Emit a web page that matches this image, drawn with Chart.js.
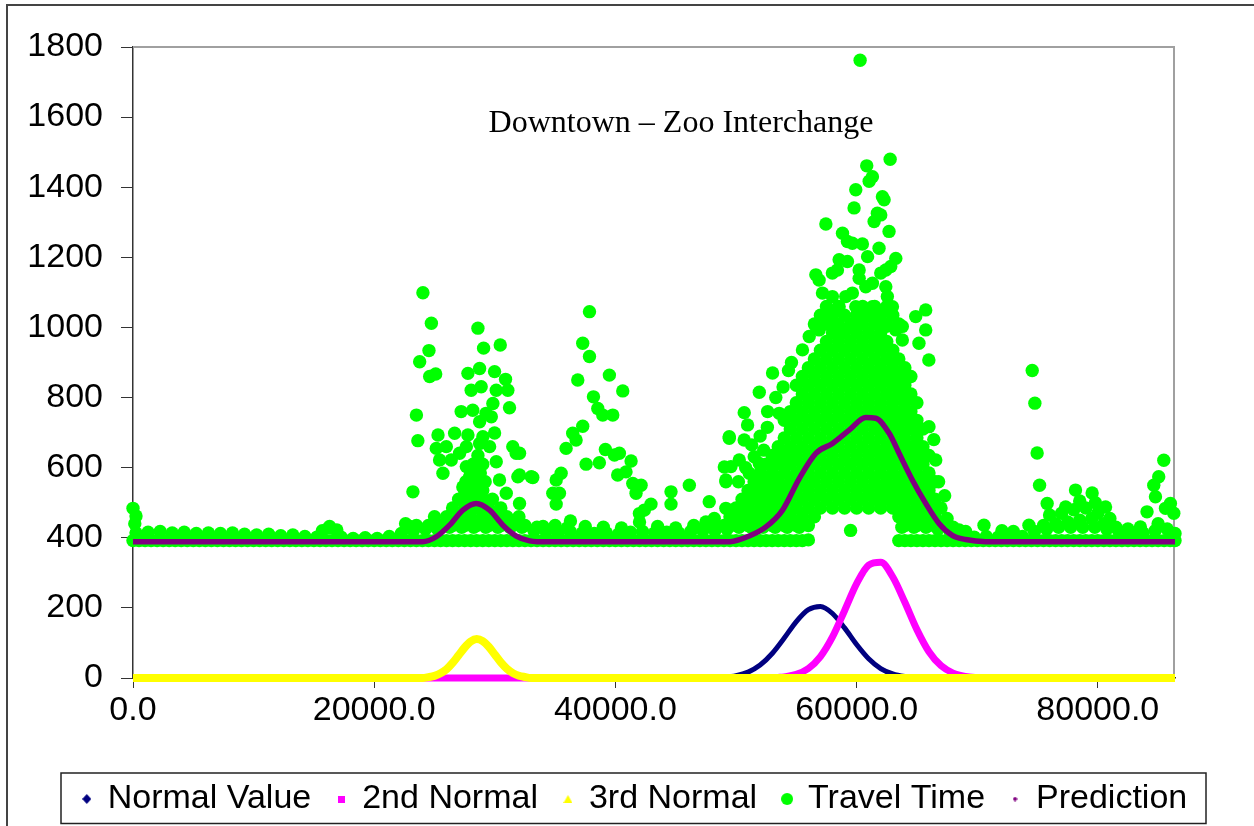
<!DOCTYPE html>
<html><head><meta charset="utf-8">
<script src="https://cdn.jsdelivr.net/npm/chart.js@4.4.1/dist/chart.umd.min.js"></script>
<style>html,body{margin:0;padding:0;background:#fff;overflow:hidden}canvas{display:block}</style>
</head><body>
<canvas id="c" width="1254" height="826"></canvas>
<script>
const chartTitle = 'Downtown – Zoo Interchange';
const seriesNames = ['Normal Value', '2nd Normal', '3rd Normal', 'Travel Time', 'Prediction'];
const seriesColors = ['#000080', '#ff00ff', '#ffff00', '#00ff00', '#800080'];
const xTickValues = [0, 20000, 40000, 60000, 80000];
const xTickLabels = ['0.0', '20000.0', '40000.0', '60000.0', '80000.0'];
const yTickValues = [0, 200, 400, 600, 800, 1000, 1200, 1400, 1600, 1800];
const yTickLabels = ['0', '200', '400', '600', '800', '1000', '1200', '1400', '1600', '1800'];

const normalValue = [[0,0],[48000,0],[49000,2],[50000,6.5],[51000,16.7],[52000,36.8],[53000,69.9],[54000,114],[55000,161],[56000,195],[57000,204],[58000,184],[59000,143],[60000,95.6],[61000,55],[62000,27],[63000,11.7],[64000,4.3],[65000,1],[66000,0],[86400,0]];
const secondNormal = [[0,0],[52500,0],[53500,1.8],[54000,3.3],[55000,10.2],[56000,27],[57000,61],[58000,117],[59000,192],[60000,269],[61000,322],[62000,330],[63000,288],[64000,216],[65000,138],[66000,75],[67000,35],[68000,14],[69000,4.7],[70000,1.4],[71000,0],[86400,0]];
const thirdNormal = [[0,0],[24000,0],[24500,2.5],[25000,6.2],[25500,13.3],[26000,25],[26500,43],[27000,65],[27500,87],[28000,104],[28500,111],[29000,105],[29500,89],[30000,67],[30500,44.5],[31000,26.5],[31500,14],[32000,6.6],[32500,2.8],[33000,0],[86400,0]];
const prediction = [[0,389],[24000,389],[25150,403],[26250,436],[27350,479],[28460,498],[29570,479],[30670,436],[31780,405],[32880,391],[33500,389],[49500,389],[51100,405],[52480,431],[53860,479],[55240,569],[56620,641],[58000,669],[59380,707],[60760,743],[61590,741],[62700,698],[63520,641],[64620,565],[65730,498],[66830,441],[67930,407],[69040,395],[70700,389],[86400,389]];

const travelBand = [
[0,392],[500,392],[1000,392],[1500,392],[2000,392],[2500,392],[3000,392],[3500,392],[4000,392],[4500,392],
[5000,392],[5500,392],[6000,392],[6500,392],[7000,392],[7500,392],[8000,392],[8500,392],[9000,392],[9500,392],
[10000,392],[10500,392],[11000,392],[11500,392],[12000,392],[12500,392],[13000,392],[13500,392],[14000,392],[14500,392],
[15000,392],[15500,392],[16000,392],[16500,392],[17000,392],[17500,392],[18000,392],[18500,392],[19000,392],[19500,392],
[20000,392],[20500,392],[21000,392],[21500,392],[22000,392],[22500,392],[23000,392],[23500,392],[24000,392],[24500,392],
[25000,392],[25500,392],[26000,392],[26500,392],[27000,392],[27500,392],[28000,392],[28500,392],[29000,392],[29500,392],
[30000,392],[30500,392],[31000,392],[31500,392],[32000,392],[32500,392],[33000,392],[33500,392],[34000,392],[34500,392],
[35000,392],[35500,392],[36000,392],[36500,392],[37000,392],[37500,392],[38000,392],[38500,392],[39000,392],[39500,392],
[40000,392],[40500,392],[41000,392],[41500,392],[42000,392],[42500,392],[43000,392],[43500,392],[44000,392],[44500,392],
[45000,392],[45500,392],[46000,392],[46500,392],[47000,392],[47500,392],[48000,392],[48500,392],[49000,392],[49500,392],
[50000,392],[50500,392],[51000,392],[51500,392],[52000,392],[52500,392],[53000,392],[53500,392],[54000,392],[54500,392],
[55000,392],[55500,392],[56000,394],[59500,421],
[63500,392],[64000,392],[64500,392],[65000,392],[65500,392],[66000,392],[66500,392],[67000,392],[67500,392],[68000,392],
[68500,392],[69000,392],[69500,392],[70000,392],[70500,392],[71000,392],[71500,392],[72000,392],[72500,392],[73000,392],
[73500,392],[74000,392],[74500,392],[75000,392],[75500,392],[76000,392],[76500,392],[77000,392],[77500,392],[78000,392],
[78500,392],[79000,392],[79500,392],[80000,392],[80500,392],[81000,392],[81500,392],[82000,392],[82500,392],[83000,392],
[83500,392],[84000,392],[84500,392],[85000,392],[85500,392],[86000,392],[86400,392],
[250,414],[1250,416],[2250,418],[3250,414],[4250,416],[5250,412],[6250,414],[7250,412],[8250,414],[9250,410],
[10250,408],[11250,410],[12250,406],[13250,408],[14250,404],[15250,402],[16250,428],[17250,402],[18250,398],[19250,400],
[20250,398],[21250,404],[22250,412],[23250,420],[24250,425],[25250,425],[26250,430],[27250,430],[28250,430],[29250,430],
[30250,430],[31250,430],[32250,430],[33250,420],[34250,418],[35250,416],[36250,418],[37250,414],[38250,412],[39250,414],
[40250,410],[41250,416],[42250,418],[43250,414],[44250,416],[45250,414],[46250,418],[47250,420],[48250,420],[49250,425],
[50250,430],[51250,430],[52250,430],[53250,430],[54250,430],[55250,430],
[63750,430],[64750,430],[65750,430],[66750,425],[67750,418],[68750,404],[69750,402],[70750,404],[71750,402],[72750,402],
[73750,404],[74750,418],[75750,425],[76750,430],[77750,430],[78750,430],[79750,430],[80750,425],[81750,418],[82750,410],
[83750,414],[84750,420],[85750,425],[86400,412],
[0,484],[250,462],[150,440],[15700,420],[16900,422],[16300,432],[22970,432],[22600,440]
];

const travelAmPeak = [
[24040,1099],[24740,1012],[28600,998],[24540,934],[23770,902],[29070,941],[30450,950],[24600,860],[25100,867],[27770,869],
[28740,883],[29980,874],[30890,852],[31080,821],[28040,821],[28870,831],[30120,821],[27210,760],[28170,764],[29270,755],
[29840,783],[29710,745],[28740,731],[31220,771],[23500,750],[23620,677],[25290,693],[26670,698],[27770,693],[29010,688],
[29980,699],[25150,655],[25980,660],[27080,641],[27640,660],[28740,669],[29570,660],[25420,622],[26390,622],[27640,603],
[28740,612],[30120,617],[31490,660],[31770,641],[25700,584],[27910,574],[30390,565],[31910,574],[33020,574],[23210,531],
[27350,545],[28460,555],[27640,517],[28740,507],[30950,527],[32050,498],[34810,527],[35090,565],
[23500,435],[24500,435],[25500,435],[26500,435],[27500,435],[28500,435],[29500,435],[30500,435],[31500,435],[32500,435],[34000,432],[35000,435],
[25000,460],[26000,460],[27000,460],[28000,460],[29000,460],[30000,460],[31000,460],[32000,460],
[26500,485],[27500,485],[28000,485],[28500,485],[29500,485],[30500,485],
[27000,510],[28000,510],[29000,510],[29800,510],
[27500,535],[28300,535],[29000,535],
[27600,560],[28400,560],[29200,560],
[28000,585],[28800,585],
[28200,610],[29000,610],[28600,635]
];

const travelMidday = [
[37850,1045],[37290,955],[37850,917],[36880,850],[39500,864],[40610,819],[38180,802],[38540,769],[38950,750],[39780,750],
[37290,718],[36460,698],[36740,679],[35910,655],[39170,652],[39920,636],[40330,641],[38670,614],[37570,610],[41300,619],
[40190,579],[40880,588],[41440,555],[42130,550],[41710,527],[35500,584],[35360,527],[35090,496],[32050,641],[32050,579],
[33150,572],[36270,448],[44610,531],[44610,496],[46130,550],[42950,496],[42400,479],[41990,469],
[33500,430],[36000,428],[37500,432],[39000,430],[40500,428],[42000,445],[43500,432],[45000,428],[46500,435],[47500,445],
[47780,503],[49160,484],[49160,565],[49580,603],[49030,602],[49440,688],[48200,455]
];

const travelPmPeak = [
[60290,1762],[62780,1480],[60840,1461],[61040,1417],[59930,1393],[61310,1430],[62140,1373],[62280,1364],[59790,1341],[61720,1326],
[62000,1321],[61450,1302],[62690,1274],[57450,1295],[58830,1269],[59240,1245],[59650,1240],[60480,1238],[61860,1226],[60910,1202],
[63250,1197],[62830,1174],[58550,1193],[59240,1188],[58410,1164],[60210,1164],[62000,1155],[62420,1164],[56620,1150],[56890,1135],
[57990,1155],[57170,1098],[60210,1140],[60760,1116],[61310,1126],[59650,1098],[62420,1116],[62550,1088],[62970,1059],[57990,1088],
[58550,1059],[59100,1088],[57720,1040],[56620,1003],[59930,1059],[60760,1031],[61310,1059],[61860,1031],[63790,1003],[65730,1050],
[64900,1031],[65730,993],[56890,993],[57990,1012],[58830,993],[59650,1003],[62420,1003],[63250,993],
[53030,870],[54350,877],[52620,760],[53580,755],[50960,722],[49440,684],[50680,679],[50270,622],[51510,631],[49160,560],
[51100,584],[51930,612],[55510,936],[56070,974],[65990,907],[66000,717],[66560,622],[51930,815],[50680,757],[63790,964],[65170,955],
[50200,560],[50800,600],[51300,665],[52000,690],[52600,715],[53300,800],[53900,830],[54600,900],[52300,650],[66400,680],[66800,560],[67300,520],
[48000,435],[49000,435],[50000,435],[51000,435],[52000,435],[53000,435],[54000,435],[55000,435],[56000,435],[64000,435],[65000,435],[66000,435],[67000,435],[68000,430],
[49500,460],[50500,460],[51500,460],[52500,460],[53500,460],[54500,460],[55500,460],[56500,460],[63500,460],[64500,460],[65500,460],[66500,460],[67500,455],
[50000,485],[51000,485],[52000,485],[53000,485],[54000,485],[55000,485],[56000,485],[57000,485],[58000,485],[59000,485],[60000,485],[61000,485],[62000,485],[63000,485],[64000,485],[65000,485],[66000,485],[67000,485],
[50500,510],[51500,510],[52500,510],[53500,510],[54500,510],[55500,510],[56500,510],[57500,510],[58500,510],[59500,510],[60500,510],[61500,510],[62500,510],[63500,510],[64500,510],[65500,510],[66500,510],
[51000,535],[52000,535],[53000,535],[54000,535],[55000,535],[56000,535],[57000,535],[58000,535],[59000,535],[60000,535],[61000,535],[62000,535],[63000,535],[64000,535],[65000,535],[66000,535],
[51500,560],[52500,560],[53500,560],[54500,560],[55500,560],[56500,560],[57500,560],[58500,560],[59500,560],[60500,560],[61500,560],[62500,560],[63500,560],[64500,560],[65500,560],[66500,560],
[52000,585],[53000,585],[54000,585],[55000,585],[56000,585],[57000,585],[58000,585],[59000,585],[60000,585],[61000,585],[62000,585],[63000,585],[64000,585],[65000,585],[66000,585],
[52500,610],[53500,610],[54500,610],[55500,610],[56500,610],[57500,610],[58500,610],[59500,610],[60500,610],[61500,610],[62500,610],[63500,610],[64500,610],[65500,610],
[53000,635],[54000,635],[55000,635],[56000,635],[57000,635],[58000,635],[59000,635],[60000,635],[61000,635],[62000,635],[63000,635],[64000,635],[65000,635],[66000,635],
[53500,660],[54500,660],[55500,660],[56500,660],[57500,660],[58500,660],[59500,660],[60500,660],[61500,660],[62500,660],[63500,660],[64500,660],[65500,660],
[54000,685],[55000,685],[56000,685],[57000,685],[58000,685],[59000,685],[60000,685],[61000,685],[62000,685],[63000,685],[64000,685],[65000,685],
[54500,710],[55500,710],[56500,710],[57500,710],[58500,710],[59500,710],[60500,710],[61500,710],[62500,710],[63500,710],[64500,710],[65500,710],
[54000,735],[55000,735],[56000,735],[57000,735],[58000,735],[59000,735],[60000,735],[61000,735],[62000,735],[63000,735],[64000,735],[65000,735],
[54500,760],[55500,760],[56500,760],[57500,760],[58500,760],[59500,760],[60500,760],[61500,760],[62500,760],[63500,760],[64500,760],
[55000,785],[56000,785],[57000,785],[58000,785],[59000,785],[60000,785],[61000,785],[62000,785],[63000,785],[64000,785],[65000,785],
[55500,810],[56500,810],[57500,810],[58500,810],[59500,810],[60500,810],[61500,810],[62500,810],[63500,810],[64500,810],
[55000,835],[56000,835],[57000,835],[58000,835],[59000,835],[60000,835],[61000,835],[62000,835],[63000,835],[64000,835],
[55500,860],[56500,860],[57500,860],[58500,860],[59500,860],[60500,860],[61500,860],[62500,860],[63500,860],[64500,860],
[56000,885],[57000,885],[58000,885],[59000,885],[60000,885],[61000,885],[62000,885],[63000,885],[64000,885],
[56500,910],[57500,910],[58500,910],[59500,910],[60500,910],[61500,910],[62500,910],[63500,910],
[57000,935],[58000,935],[59000,935],[60000,935],[61000,935],[62000,935],[63000,935],
[57500,960],[58500,960],[59500,960],[60500,960],[61500,960],[62500,960],
[58000,985],[59000,985],[60000,985],[61000,985],[62000,985],
[56500,1010],[57500,1010],[58500,1010],[59500,1010],[60500,1010],[61500,1010],[62500,1010],[63500,1010],
[57000,1035],[58000,1035],[59000,1035],[60000,1035],[61000,1035],[62000,1035],[63000,1035],
[57500,1060],[58500,1060],[60500,1060],[61500,1060],[62500,1060]
];

const travelEvening = [
[68500,422],[69040,418],[70560,436],[72050,420],[73000,418],[74290,436],[74560,877],[74780,784],[74970,642],[75170,550],
[75800,498],[75500,435],[76500,440],[77330,488],[77500,445],[78150,536],[78500,450],[79530,528],[79500,455],[80640,488],
[80500,440],[81500,430],[76000,465],[77000,470],[78000,480],[79000,485],[80000,470],[81000,455],[78500,505],[79800,500],
[83530,431],[84080,474],[84640,550],[84780,517],[85050,574],[85470,621],[85610,484],[86020,498],[86300,470],[82500,425],[85000,440]
];

const travelTime = [].concat(travelBand, travelAmPeak, travelMidday, travelPmPeak, travelEvening);

function makeMarker(shape, w, h, color) {
  const c = document.createElement('canvas');
  c.width = w; c.height = h;
  const g = c.getContext('2d');
  g.fillStyle = color;
  g.beginPath();
  if (shape === 'diamond') { g.moveTo(w / 2, 0); g.lineTo(w, h / 2); g.lineTo(w / 2, h); g.lineTo(0, h / 2); }
  else if (shape === 'square') { g.rect(0, 0, w, h); }
  else if (shape === 'triangle') { g.moveTo(w / 2, 0); g.lineTo(w, h); g.lineTo(0, h); }
  else { g.arc(w / 2, h / 2, w / 2, 0, Math.PI * 2); }
  g.closePath();
  g.fill();
  return c;
}
const legendMarkers = [
  makeMarker('diamond', 9, 10, seriesColors[0]),
  makeMarker('square', 7, 7, seriesColors[1]),
  makeMarker('triangle', 9, 8, seriesColors[2]),
  makeMarker('circle', 12, 12, seriesColors[3]),
  makeMarker('diamond', 5, 5, seriesColors[4])
];

const decoPlugin = {
  id: 'deco',
  beforeDatasetsDraw(chart) {
    const { ctx, chartArea: a } = chart;
    ctx.save();
    ctx.strokeStyle = '#a0a0a0';
    ctx.lineWidth = 2;
    ctx.beginPath();
    ctx.moveTo(a.left, a.top);
    ctx.lineTo(a.right - 1, a.top);
    ctx.lineTo(a.right - 1, a.bottom);
    ctx.stroke();
    ctx.restore();
  },
  afterDraw(chart) {
    const { ctx } = chart;
    ctx.save();
    ctx.font = '32px "Liberation Serif", "Times New Roman", serif';
    ctx.fillStyle = '#000';
    ctx.textAlign = 'center';
    ctx.textBaseline = 'alphabetic';
    ctx.fillText(chartTitle, 681, 132);
    ctx.strokeStyle = '#222';
    ctx.lineWidth = 1.5;
    ctx.strokeRect(61, 773, 1145, 50.5);
    ctx.strokeStyle = '#444';
    ctx.lineWidth = 2;
    ctx.strokeRect(7, 5, 1400, 1000);
    ctx.restore();
  }
};

const lineDs = (i, data, width, order) => ({
  label: seriesNames[i], data, showLine: true, borderColor: seriesColors[i], backgroundColor: seriesColors[i],
  borderWidth: width, pointRadius: 0, pointHoverRadius: 0, fill: false, cubicInterpolationMode: 'monotone',
  clip: false, order
});

const axisFont = { family: '"Liberation Sans", Arial, sans-serif', size: 34 };

new Chart(document.getElementById('c'), {
  type: 'scatter',
  data: {
    datasets: [
      lineDs(0, normalValue, 5, 5),
      lineDs(1, secondNormal, 7, 4),
      lineDs(2, thirdNormal, 8, 3),
      { label: seriesNames[3], data: travelTime, showLine: false, pointRadius: 6.7, pointHoverRadius: 6.7,
        pointBorderWidth: 0, pointBackgroundColor: seriesColors[3], backgroundColor: seriesColors[3],
        borderColor: seriesColors[3], clip: false, order: 2 },
      lineDs(4, prediction, 5.5, 1)
    ]
  },
  options: {
    responsive: false,
    maintainAspectRatio: false,
    devicePixelRatio: 1,
    animation: false,
    events: [],
    layout: { padding: { left: 16, right: 0, top: 47, bottom: 0 } },
    scales: {
      x: {
        type: 'linear', min: 0, max: 86400,
        afterBuildTicks: (s) => { s.ticks = xTickValues.map(v => ({ value: v })); },
        afterFit: (s) => { s.height = 78; },
        ticks: { callback: (v) => xTickLabels[xTickValues.indexOf(v)], autoSkip: false, maxRotation: 0, minRotation: 0,
                 padding: 2, color: '#000', font: axisFont },
        grid: { display: true, drawOnChartArea: false, drawTicks: true, tickLength: 10, color: '#333', lineWidth: 1 },
        border: { display: true, color: '#333', width: 1.5 }
      },
      y: {
        type: 'linear', min: 0, max: 1800,
        afterBuildTicks: (s) => { s.ticks = yTickValues.map(v => ({ value: v })); },
        afterFit: (s) => { s.width = 117; },
        ticks: { callback: (v) => yTickLabels[yTickValues.indexOf(v)], autoSkip: false, padding: 18, color: '#000', font: axisFont },
        grid: { display: true, drawOnChartArea: false, drawTicks: true, tickLength: 12, color: '#333', lineWidth: 1 },
        border: { display: true, color: '#333', width: 1.5 }
      },
      y2: {
        type: 'linear', position: 'right', display: true,
        grid: { display: false }, border: { display: false }, ticks: { display: false },
        afterFit: (s) => { s.width = 79; }
      }
    },
    plugins: {
      title: { display: false },
      tooltip: { enabled: false },
      legend: {
        display: true, position: 'bottom', align: 'center',
        labels: {
          usePointStyle: true, pointStyleWidth: 8, padding: 26, color: '#000', font: axisFont,
          sort: (a, b) => a.datasetIndex - b.datasetIndex,
          generateLabels(chart) {
            const items = Chart.defaults.plugins.legend.labels.generateLabels(chart);
            items.forEach(it => { it.pointStyle = legendMarkers[it.datasetIndex]; });
            return items;
          }
        }
      }
    }
  },
  plugins: [decoPlugin]
});
</script>
</body></html>
